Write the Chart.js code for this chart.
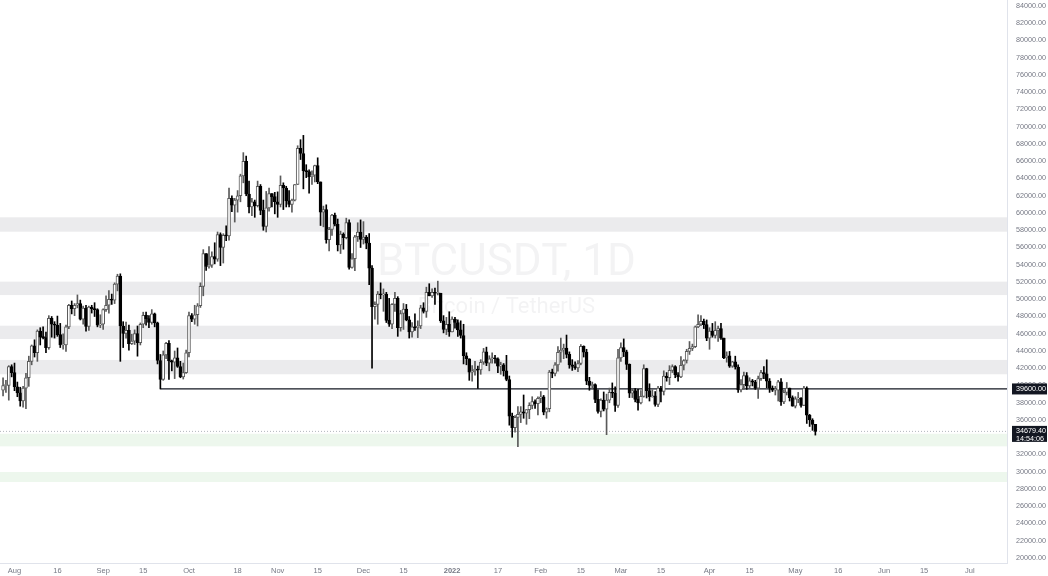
<!DOCTYPE html>
<html>
<head>
<meta charset="utf-8">
<title>BTCUSDT, 1D</title>
<script src="https://cdn.jsdelivr.net/npm/chart.js@4.4.1/dist/chart.umd.min.js"></script>
<style>
  html, body { margin: 0; padding: 0; background: #fff; }
  canvas { display: block; }
</style>
</head>
<body>
<canvas id="chart" width="1048" height="576"></canvas>
<script>
// x unit = days since 1 Aug 2021, first candle is 28 Jul 2021
const firstDay = -4;
const firstOpen = 39.46;

// daily OHLC in thousands of USDT (open = previous close), one row per month
const closes = [
    40.0, 40.0, 42.2, 41.5,
    39.85, 39.15, 38.2, 39.7, 40.9, 42.8, 44.6, 43.8, 46.3, 45.6, 45.55, 44.4, 47.8, 47.1, 47.0, 45.9, 44.7, 44.7, 46.8, 49.3, 48.9, 49.3, 49.5, 47.7, 48.98, 46.85, 49.1, 48.9, 48.8, 47.0, 47.1,
    48.8, 49.3, 50.0, 49.9, 51.75, 52.7, 46.9, 46.05, 46.4, 44.85, 45.15, 46.03, 44.96, 47.1, 48.15, 47.75, 47.3, 48.3, 47.26, 42.9, 40.7, 43.55, 44.9, 42.85, 42.7, 43.2, 42.2, 41.0, 41.5, 43.8,
    48.1, 47.7, 48.2, 49.25, 51.5, 55.3, 53.8, 53.95, 54.95, 54.65, 57.5, 56.0, 57.4, 57.35, 61.7, 60.9, 61.5, 62.0, 64.3, 66.0, 62.2, 60.7, 61.3, 60.85, 63.1, 60.3, 58.45, 60.6, 62.25, 61.9, 61.3,
    61.0, 63.2, 62.9, 61.4, 61.0, 61.5, 63.3, 67.5, 66.9, 64.9, 64.8, 64.2, 64.4, 65.5, 63.6, 60.1, 60.4, 56.9, 58.1, 59.75, 58.7, 56.3, 57.55, 57.15, 58.9, 53.7, 54.7, 57.25, 57.8, 56.95,
    57.2, 56.5, 53.6, 49.15, 49.4, 50.6, 50.5, 50.6, 47.55, 47.1, 49.4, 50.1, 46.7, 48.35, 48.85, 47.6, 46.2, 46.8, 46.7, 46.9, 49.0, 48.6, 50.8, 50.4, 50.8, 50.7, 50.7, 47.5, 46.5, 47.1, 46.2,
    47.7, 47.3, 46.45, 45.8, 43.45, 43.1, 41.55, 41.7, 41.9, 41.8, 42.7, 43.9, 42.6, 43.1, 43.2, 43.1, 42.25, 42.4, 41.7, 40.7, 36.45, 35.1, 36.3, 36.65, 36.95, 36.8, 37.2, 37.7, 38.15, 37.9, 38.5,
    38.7, 36.9, 37.3, 41.55, 41.4, 42.4, 43.85, 44.1, 44.35, 43.6, 42.4, 42.2, 42.05, 42.55, 44.55, 43.87, 40.5, 40.0, 40.1, 38.4, 37.0, 38.3, 37.25, 38.3, 39.2, 39.1, 37.7, 43.2,
    44.4, 43.9, 42.45, 39.1, 39.4, 38.4, 37.99, 38.73, 41.95, 39.4, 38.7, 38.8, 37.8, 39.7, 39.3, 41.1, 40.9, 41.75, 42.2, 41.25, 41.0, 42.35, 42.9, 43.95, 44.3, 44.5, 46.8, 47.1, 47.45, 47.05, 45.5,
    46.3, 45.8, 46.4, 46.6, 45.5, 43.2, 43.45, 42.25, 42.75, 42.15, 39.5, 40.1, 41.15, 39.95, 40.55, 40.4, 39.7, 40.8, 41.5, 41.35, 40.5, 39.7, 39.45, 39.45, 40.43, 38.1, 39.2, 39.7, 38.6, 37.6,
    38.45, 38.5, 37.7, 39.7, 36.55, 36.0, 35.5, 34.6794
];
const highs = [
    40.9, 40.6, 42.3, 42.4,
    42.6, 40.4, 39.8, 39.9, 41.4, 43.4, 44.7, 45.3, 46.45, 46.7, 46.8, 46.2, 48.1, 48.0, 47.4, 48.05, 47.2, 46.0, 47.0, 49.4, 49.8, 49.5, 50.5, 49.9, 49.2, 49.3, 49.2, 49.3, 49.6, 48.9, 48.2,
    48.9, 50.4, 51.0, 50.6, 51.9, 52.9, 52.95, 47.4, 47.35, 47.0, 45.95, 46.45, 46.9, 47.25, 48.5, 48.5, 48.1, 48.8, 48.4, 47.35, 43.6, 44.0, 45.0, 45.2, 42.95, 44.0, 44.35, 42.8, 42.6, 44.1,
    48.5, 48.35, 49.3, 49.5, 51.9, 55.75, 55.3, 56.1, 55.5, 56.55, 57.8, 57.7, 57.6, 58.5, 62.9, 62.0, 61.7, 62.6, 64.5, 67.0, 66.6, 63.7, 61.7, 61.5, 63.7, 63.3, 61.5, 62.5, 62.9, 62.25, 62.4,
    62.45, 64.3, 63.5, 63.1, 62.6, 61.6, 63.3, 67.8, 68.5, 69.0, 65.6, 65.0, 64.9, 65.55, 66.4, 63.6, 60.8, 60.95, 58.35, 59.85, 60.0, 59.3, 57.9, 57.7, 59.4, 59.2, 55.3, 57.4, 58.87, 59.2,
    59.0, 57.4, 57.6, 53.9, 49.7, 50.9, 51.9, 51.2, 50.8, 50.1, 49.5, 50.8, 50.3, 48.7, 49.5, 49.4, 48.0, 47.3, 48.3, 47.5, 49.3, 49.6, 51.4, 51.8, 51.2, 51.3, 52.1, 50.7, 48.1, 47.9, 48.55,
    47.95, 47.9, 47.6, 47.5, 47.1, 43.8, 43.1, 42.3, 42.8, 42.25, 43.0, 44.3, 44.45, 43.45, 43.8, 43.5, 43.2, 42.7, 42.55, 43.5, 41.1, 36.8, 36.5, 37.55, 37.55, 38.9, 37.2, 38.0, 38.7, 38.35, 38.7,
    39.3, 38.85, 37.4, 41.75, 41.9, 42.65, 44.5, 45.5, 44.8, 45.85, 43.9, 43.0, 42.75, 42.9, 44.75, 44.6, 44.2, 40.95, 40.4, 40.2, 39.5, 38.45, 39.25, 39.0, 39.7, 40.3, 39.85, 44.2,
    44.95, 45.4, 44.1, 42.5, 39.6, 39.65, 39.55, 39.4, 42.4, 42.0, 40.2, 39.5, 39.3, 39.9, 39.9, 41.7, 41.5, 42.3, 42.4, 42.3, 41.5, 43.35, 43.0, 44.2, 45.1, 44.8, 46.9, 48.2, 48.1, 47.7, 47.6,
    46.7, 47.2, 47.4, 46.9, 47.2, 45.5, 43.9, 43.95, 42.8, 43.4, 42.4, 40.7, 41.55, 41.5, 40.9, 40.7, 40.6, 41.1, 41.75, 42.2, 42.98, 40.8, 39.95, 39.9, 40.6, 40.8, 39.45, 40.35, 39.4, 38.8,
    38.7, 39.2, 38.6, 39.9, 39.85, 36.65, 36.15, 35.5
];
const lows = [
    38.8, 39.2, 38.3, 41.0,
    39.4, 38.7, 37.6, 37.5, 37.3, 39.9, 42.4, 43.3, 42.8, 44.7, 45.4, 43.8, 44.2, 45.6, 45.5, 45.7, 44.4, 44.2, 43.95, 46.6, 48.3, 48.1, 49.0, 47.6, 47.1, 46.3, 46.4, 48.4, 48.0, 46.8, 46.7,
    46.5, 48.6, 48.4, 49.4, 49.5, 50.97, 42.8, 44.4, 45.5, 44.1, 44.75, 44.75, 43.4, 44.7, 46.7, 47.0, 46.7, 47.1, 46.8, 42.5, 39.6, 40.6, 43.1, 40.7, 41.7, 40.8, 42.1, 40.9, 40.75, 41.4,
    43.3, 47.4, 47.1, 46.9, 49.05, 50.4, 53.35, 53.6, 53.7, 54.1, 54.4, 53.9, 54.2, 56.8, 56.85, 60.15, 58.95, 60.1, 61.3, 63.5, 62.0, 60.0, 59.7, 59.5, 60.7, 59.8, 58.0, 57.8, 60.2, 60.7, 59.9,
    59.5, 60.7, 60.4, 60.7, 60.7, 60.1, 61.4, 63.3, 66.2, 62.8, 64.1, 62.3, 63.3, 63.6, 63.4, 58.55, 58.4, 56.5, 55.6, 57.4, 58.5, 55.6, 55.3, 55.8, 57.0, 53.5, 53.6, 53.3, 56.7, 56.0,
    56.4, 55.85, 51.7, 42.0, 47.7, 47.1, 50.05, 48.6, 47.3, 46.85, 46.6, 48.6, 45.7, 46.3, 46.5, 47.5, 45.5, 45.6, 46.4, 45.55, 46.6, 48.4, 47.9, 50.4, 50.2, 49.4, 50.5, 47.3, 46.1, 45.9, 45.7,
    46.2, 46.65, 45.7, 45.5, 42.5, 42.4, 40.6, 40.5, 41.2, 39.65, 41.3, 42.45, 42.3, 41.7, 42.6, 42.6, 41.5, 41.3, 41.1, 40.55, 35.4, 34.0, 34.6, 32.9, 35.7, 36.2, 35.5, 36.15, 37.3, 37.35, 36.6,
    38.0, 36.6, 36.2, 36.95, 40.9, 41.1, 41.65, 42.7, 43.1, 43.2, 42.0, 41.75, 41.85, 41.6, 42.4, 43.3, 40.1, 39.45, 39.6, 38.0, 36.8, 36.35, 37.05, 34.3, 38.0, 38.6, 37.0, 37.45,
    42.8, 43.35, 41.85, 38.6, 38.6, 38.1, 37.15, 37.85, 38.65, 38.55, 38.2, 38.65, 37.6, 37.55, 38.1, 38.9, 40.5, 40.1, 41.5, 40.9, 40.5, 40.9, 41.8, 42.6, 43.6, 44.05, 44.4, 46.7, 46.95, 46.6, 45.2,
    44.2, 45.6, 45.5, 45.1, 45.35, 43.1, 42.7, 42.1, 42.1, 41.9, 39.2, 39.25, 39.55, 39.55, 39.75, 39.95, 39.55, 38.5, 40.6, 40.8, 39.75, 39.2, 39.3, 38.9, 38.2, 37.7, 37.9, 38.9, 38.2, 37.6,
    37.4, 38.0, 37.5, 37.65, 35.6, 35.25, 34.8, 34.25
];

// axis ticks
const xTickDays = [0, 15, 31, 45, 61, 78, 92, 106, 122, 136, 153, 169, 184, 198, 212, 226, 243, 257, 273, 288, 304, 318, 334];
const xTickLabels = ['Aug', '16', 'Sep', '15', 'Oct', '18', 'Nov', '15', 'Dec', '15', '2022', '17', 'Feb', '15', 'Mar', '15', 'Apr', '15', 'May', '16', 'Jun', '15', 'Jul'];
const yTickValues = [84000, 82000, 80000, 78000, 76000, 74000, 72000, 70000, 68000, 66000, 64000, 62000, 60000, 58000, 56000, 54000, 52000,
    50000, 48000, 46000, 44000, 42000, 40000, 38000, 36000, 34000, 32000, 30000, 28000, 26000, 24000, 22000, 20000];

// drawn levels
const grayZones = [[57830, 59500], [50490, 52040], [45390, 46930], [41300, 42960]];
const greenZones = [[32950, 34400], [28810, 29970]];
const levelPrice = 39600;
const levelStartDay = 51;
const lastPrice = 34679.40;
const barCountdown = '14:54:06';

const FONT = "'Liberation Sans', Arial, sans-serif";
const TEXT = '#767985';

// Build candle objects
const candles = closes.map((c, i) => {
    const o = i === 0 ? firstOpen : closes[i - 1];
    return { x: firstDay + i, o: o * 1000, h: highs[i] * 1000, l: lows[i] * 1000, c: c * 1000 };
});
const isUp = candles.map(k => k.c >= k.o);

// Backdrop: watermark and zones, then price tags on the axis
const decorations = {
    id: 'decorations',
    beforeDraw(chart) {
        const { ctx, chartArea: a } = chart;
        const y = chart.scales.y;
        ctx.save();
        ctx.fillStyle = '#ffffff';
        ctx.fillRect(0, 0, chart.width, chart.height);

        const cx = a.left + a.width / 2 + 3;
        ctx.fillStyle = 'rgba(19, 23, 34, 0.05)';
        ctx.textAlign = 'center';
        ctx.textBaseline = 'alphabetic';
        ctx.font = '44px Roboto';
        ctx.fillText('BTCUSDT, 1D', cx, 275);
        ctx.font = '22px Roboto';
        ctx.fillText('Bitcoin / TetherUS', cx, 313);

        const drawZones = (zones, color) => {
            ctx.fillStyle = color;
            zones.forEach(([lo, hi]) => {
                const top = y.getPixelForValue(hi);
                ctx.fillRect(a.left, top, a.width, y.getPixelForValue(lo) - top);
            });
        };
        drawZones(grayZones, 'rgba(120, 123, 134, 0.15)');
        drawZones(greenZones, 'rgba(76, 175, 80, 0.1)');
        ctx.restore();
    },
    afterDraw(chart) {
        const { ctx, chartArea: a } = chart;
        const y = chart.scales.y;
        const tag = (price, lines) => {
            const py = y.getPixelForValue(price);
            ctx.fillStyle = '#131722';
            ctx.fillRect(a.right + 5, py - 5.5, chart.width - a.right - 6, lines.length === 1 ? 11 : 16);
            ctx.fillStyle = '#ffffff';
            ctx.font = '7.2px ' + FONT;
            ctx.textAlign = 'left';
            ctx.textBaseline = 'middle';
            lines.forEach((t, i) => ctx.fillText(t, a.right + 9, py + i * 7.5));
        };
        ctx.save();
        tag(levelPrice, [levelPrice.toFixed(2)]);
        tag(lastPrice, [lastPrice.toFixed(2), barCountdown]);
        ctx.restore();
    }
};

const xMin = -5.07;
const xMax = 347.0;

new Chart(document.getElementById('chart'), {
    type: 'bar',
    data: {
        datasets: [
            {
                label: 'body',
                order: 0,
                grouped: false,
                data: candles.map(k => ({ x: k.x, y: [k.o, k.c] })),
                backgroundColor: isUp.map(u => u ? '#ffffff' : '#000000'),
                borderColor: isUp.map(u => u ? '#5a5a5a' : '#000000'),
                borderWidth: 1,
                borderSkipped: false,
                barThickness: 3,
                minBarLength: 1
            },
            {
                label: 'wick',
                order: 1,
                grouped: false,
                data: candles.map(k => ({ x: k.x, y: [Math.min(k.l, k.o, k.c), Math.max(k.h, k.o, k.c)] })),
                backgroundColor: isUp.map(u => u ? '#5a5a5a' : '#000000'),
                borderWidth: 0,
                barThickness: 1
            },
            {
                type: 'line',
                label: 'level',
                order: 2,
                data: [{ x: levelStartDay, y: levelPrice }, { x: xMax, y: levelPrice }],
                borderColor: '#131722',
                borderWidth: 1.2,
                pointRadius: 0
            },
            {
                type: 'line',
                label: 'last',
                order: 3,
                data: [{ x: xMin, y: lastPrice }, { x: xMax, y: lastPrice }],
                borderColor: '#b2b5be',
                borderWidth: 1,
                borderDash: [1, 2],
                pointRadius: 0
            }
        ]
    },
    options: {
        responsive: false,
        animation: false,
        devicePixelRatio: 1,
        layout: { padding: 0 },
        plugins: {
            legend: { display: false },
            tooltip: { enabled: false }
        },
        scales: {
            x: {
                type: 'linear',
                min: xMin,
                max: xMax,
                offset: false,
                grid: { display: false, drawTicks: false },
                border: { display: true, color: '#e0e3eb' },
                afterBuildTicks: axis => { axis.ticks = xTickDays.map(v => ({ value: v })); },
                afterFit: axis => {
                    axis.height = 13;
                    axis.paddingLeft = 0;
                    axis.paddingRight = 0;
                },
                ticks: {
                    autoSkip: false,
                    maxRotation: 0,
                    padding: 3,
                    color: TEXT,
                    font: ctx => ({ family: FONT, size: 7.5, weight: ctx.tick && ctx.tick.value === 153 ? 'bold' : 'normal' }),
                    callback: (v, i) => xTickLabels[i]
                }
            },
            y: {
                position: 'right',
                min: 19420,
                max: 84696,
                grid: { display: false, drawTicks: false },
                border: { display: true, color: '#e0e3eb' },
                afterBuildTicks: axis => { axis.ticks = yTickValues.map(v => ({ value: v })); },
                afterFit: axis => {
                    axis.width = 41;
                    axis.paddingTop = 0;
                    axis.paddingBottom = 0;
                },
                ticks: {
                    padding: 9,
                    color: TEXT,
                    font: { family: FONT, size: 7.2 },
                    callback: v => Number(v).toFixed(2)
                }
            }
        }
    },
    plugins: [decorations]
});
</script>
</body>
</html>
